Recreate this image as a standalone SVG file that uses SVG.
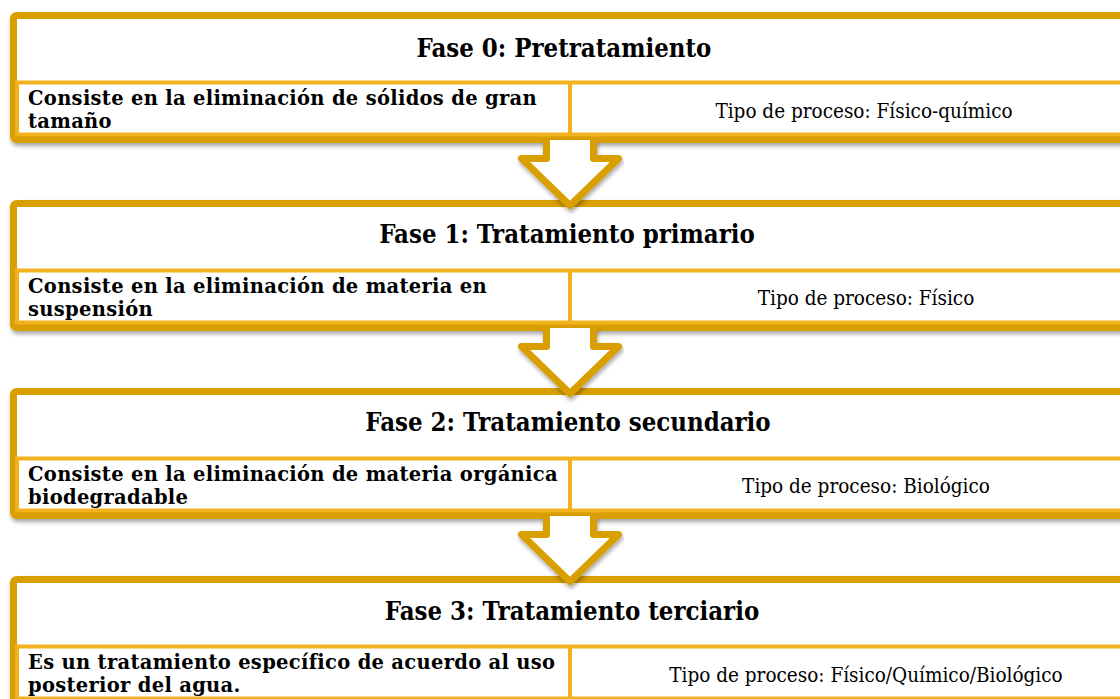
<svg xmlns="http://www.w3.org/2000/svg" width="1120" height="699" viewBox="0 0 1120 699">
<style>
.outer{fill:#fff;stroke:#D99E00;stroke-width:7}
.row{fill:#fff;stroke:#F2B21E;stroke-width:4}
.div{stroke:#F2B21E;stroke-width:4}
.arrow{fill:#fff;stroke:#D99E00;stroke-width:7;stroke-linejoin:round}
.h{font-family:"DejaVu Serif Condensed","DejaVu Serif","Liberation Serif",serif;font-stretch:condensed;font-weight:bold;font-size:25.5px;fill:#000;text-anchor:middle}
.l{font-family:"DejaVu Serif","Liberation Serif",serif;font-weight:bold;font-size:19.5px;letter-spacing:0.3px;fill:#000}
.r{font-family:"DejaVu Serif Condensed","DejaVu Serif","Liberation Serif",serif;font-stretch:condensed;font-size:20.5px;fill:#000;text-anchor:middle}
</style>
<defs>
<filter id="sh" x="-5%" y="-20%" width="110%" height="150%">
<feDropShadow dx="1" dy="3" stdDeviation="2" flood-color="#000" flood-opacity="0.35"/>
</filter>
</defs>
<g id="fase0">
<rect class="outer" x="13.5" y="15.5" width="1130" height="124" rx="3" filter="url(#sh)"/>
<rect class="row" x="17" y="82.5" width="1120" height="52"/>
<line class="div" x1="570" y1="82" x2="570" y2="136"/>
<text class="h" x="564" y="57">Fase 0: Pretratamiento</text>
<text class="l" x="28" y="105">Consiste en la eliminación de sólidos de gran</text>
<text class="l" x="28" y="128">tamaño</text>
<text class="r" x="864" y="118">Tipo de proceso: Físico-químico</text>
</g>
<g id="fase1" transform="translate(0,188)">
<rect class="outer" x="13.5" y="15.5" width="1130" height="124" rx="3" filter="url(#sh)"/>
<rect class="row" x="17" y="82.5" width="1120" height="52"/>
<line class="div" x1="570" y1="82" x2="570" y2="136"/>
<text class="h" x="567" y="55">Fase 1: Tratamiento primario</text>
<text class="l" x="28" y="105">Consiste en la eliminación de materia en</text>
<text class="l" x="28" y="128">suspensión</text>
<text class="r" x="866" y="117">Tipo de proceso: Físico</text>
</g>
<g id="fase2" transform="translate(0,376)">
<rect class="outer" x="13.5" y="15.5" width="1130" height="124" rx="3" filter="url(#sh)"/>
<rect class="row" x="17" y="82.5" width="1120" height="52"/>
<line class="div" x1="570" y1="82" x2="570" y2="136"/>
<text class="h" x="568" y="55">Fase 2: Tratamiento secundario</text>
<text class="l" x="28" y="105">Consiste en la eliminación de materia orgánica</text>
<text class="l" x="28" y="128">biodegradable</text>
<text class="r" x="866" y="117">Tipo de proceso: Biológico</text>
</g>
<g id="fase3" transform="translate(0,564)">
<rect class="outer" x="13.5" y="15.5" width="1130" height="124" rx="3" filter="url(#sh)"/>
<rect class="row" x="17" y="82.5" width="1120" height="52"/>
<line class="div" x1="570" y1="82" x2="570" y2="136"/>
<text class="h" x="572" y="56">Fase 3: Tratamiento terciario</text>
<text class="l" x="28" y="105">Es un tratamiento específico de acuerdo al uso</text>
<text class="l" x="28" y="128">posterior del agua.</text>
<text class="r" x="866" y="118">Tipo de proceso: Físico/Químico/Biológico</text>
</g>
<g id="connectors">
<path class="arrow" filter="url(#sh)" d="M546.5,140 V158.5 H521.5 L570,205.5 L618.5,158.5 H593.5 V140"/>
<path class="arrow" filter="url(#sh)" d="M546.5,328 V346.5 H521.5 L570,393.5 L618.5,346.5 H593.5 V328"/>
<path class="arrow" filter="url(#sh)" d="M546.5,516 V534.5 H521.5 L570,581.5 L618.5,534.5 H593.5 V516"/>
</g>
</svg>
